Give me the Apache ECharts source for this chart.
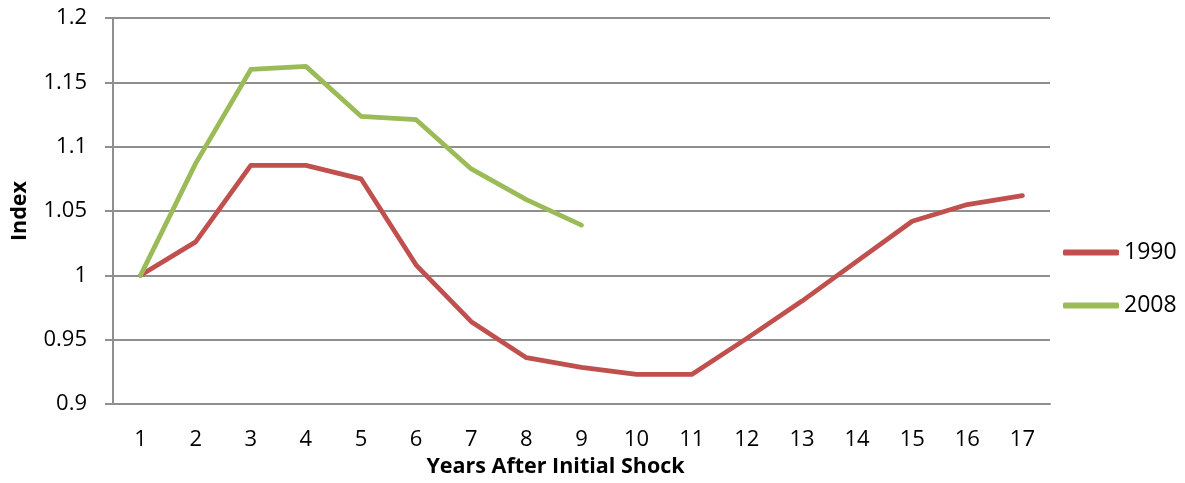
<!DOCTYPE html>
<html>
<head>
<meta charset="utf-8">
<script src="https://cdn.jsdelivr.net/npm/echarts@6/dist/echarts.min.js"></script>
<style>html,body{margin:0;padding:0;background:#fff;}#c{width:1185px;height:483px;}</style>
</head>
<body>
<div id="c"></div>
<script>
var categories = ['1','2','3','4','5','6','7','8','9','10','11','12','13','14','15','16','17'];
var series1990 = [1.0, 1.026, 1.0855, 1.0855, 1.075, 1.008, 0.964, 0.936, 0.9285, 0.923, 0.923, 0.951, 0.98, 1.011, 1.042, 1.055, 1.062];
var series2008 = [1.0, 1.087, 1.16, 1.1624, 1.1236, 1.121, 1.0827, 1.0588, 1.039];
var yTicks = [0.9, 0.95, 1, 1.05, 1.1, 1.15, 1.2];

var font = 'Open Sans, Noto Sans, sans-serif';
var gridColor = '#8f8f8f';
var chart = echarts.init(document.getElementById('c'));
chart.setOption({
  animation: false,
  grid: {left: 113, right: 135, top: 18, bottom: 79},
  legend: {
    orient: 'vertical', left: 1058, top: 236,
    itemWidth: 56, itemHeight: 6, itemGap: 30,
    icon: 'roundRect',
    textStyle: {fontFamily: font, fontSize: 23, color: '#000'},
    data: ['1990', '2008']
  },
  xAxis: {
    type: 'category', data: categories, boundaryGap: true,
    name: 'Years After Initial Shock', nameLocation: 'middle', nameGap: 37,
    nameTextStyle: {fontFamily: font, fontSize: 21.5, fontWeight: 'bold', color: '#000', padding: [0, 52, 0, 0]},
    axisLine: {show: true, lineStyle: {color: gridColor, width: 2}},
    axisTick: {show: false},
    axisLabel: {fontFamily: font, fontSize: 22, color: '#000', margin: 25}
  },
  yAxis: {
    type: 'value', min: 0.9, max: 1.2, interval: 0.05,
    name: 'Index', nameLocation: 'middle', nameGap: 82, nameRotate: 90,
    nameTextStyle: {fontFamily: font, fontSize: 21.5, fontWeight: 'bold', color: '#000'},
    axisLine: {show: true, lineStyle: {color: gridColor, width: 2}},
    axisTick: {show: true, length: 8, lineStyle: {color: gridColor, width: 2}},
    splitLine: {show: true, lineStyle: {color: gridColor, width: 2}},
    axisLabel: {fontFamily: font, fontSize: 22, color: '#000', margin: 26,
      formatter: function (v) { var r = Math.round(v * 100) / 100; return yTicks.indexOf(r) >= 0 ? String(r) : ''; }}
  },
  series: [
    {name: '1990', type: 'line', data: series1990, showSymbol: false, symbol: 'none',
     itemStyle: {color: '#C0504D'}, lineStyle: {color: '#C0504D', width: 4.75, cap: 'round', join: 'round'}},
    {name: '2008', type: 'line', data: series2008, showSymbol: false, symbol: 'none',
     itemStyle: {color: '#9BBB59'}, lineStyle: {color: '#9BBB59', width: 4.75, cap: 'round', join: 'round'}}
  ]
});
</script>
</body>
</html>
